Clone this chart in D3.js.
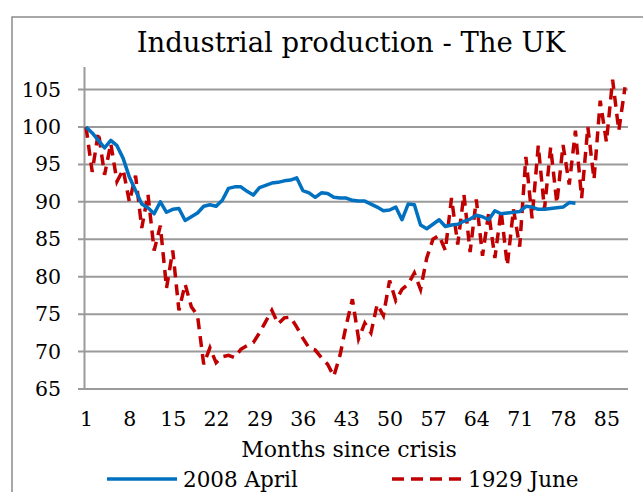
<!DOCTYPE html>
<html>
<head>
<meta charset="utf-8">
<script src="https://cdn.jsdelivr.net/npm/d3@7"></script>
<style>
  body { margin: 0; background: #fff; }
  text { font-family: "DejaVu Serif", serif; fill: #000; }
</style>
</head>
<body>
<div id="chart"></div>
<script>
// Data
const months = d3.range(1, 89);
const seriesNames = ["2008 April", "1929 June"];
const april2008 = [
  100, 99.2, 98.2, 97.2, 98.2, 97.5, 95.8, 93.3, 91.5, 89.7,
  89.2, 88.4, 90.0, 88.6, 89.0, 89.1, 87.5, 88.0, 88.5, 89.4,
  89.6, 89.4, 90.2, 91.8, 92.0, 92.0, 91.4, 90.9, 91.9, 92.2,
  92.5, 92.6, 92.8, 92.9, 93.2, 91.5, 91.2, 90.6, 91.2, 91.1,
  90.6, 90.5, 90.5, 90.2, 90.1, 90.1, 89.7, 89.3, 88.8, 88.9,
  89.3, 87.6, 89.7, 89.6, 86.9, 86.4, 87.0, 87.6, 86.7, 86.9,
  87.0, 87.4, 87.7, 88.2, 88.0, 87.6, 88.8, 88.4, 88.5, 88.6,
  88.7, 89.4, 89.3, 89.0, 89.0, 89.1, 89.2, 89.3, 89.9, 89.8
];
const june1929 = [
  100, 94.0, 99.3, 93.6, 97.8, 92.7, 94.3, 90.0, 93.5, 86.5,
  91.0, 83.5, 86.8, 78.5, 83.5, 75.5, 79.0, 76.0, 74.8, 68.3,
  70.5, 68.5, 69.3, 69.5, 69.2, 70.3, 70.8, 71.2, 72.5, 74.0,
  75.5, 73.7, 74.5, 74.6, 73.3, 71.8, 70.5, 70.2, 69.2, 68.3,
  66.7, 69.5, 73.5, 77.0, 71.7, 73.8, 72.5, 76.3, 74.8, 79.5,
  76.8, 78.3, 79.0, 80.5, 78.3, 82.5, 85.0, 85.5, 83.5, 90.5,
  84.3, 91.0, 83.3, 90.3, 82.8, 88.5, 82.5, 88.8, 81.5, 89.0,
  84.0, 96.0, 87.8, 97.5, 89.0, 97.3, 89.8, 97.6, 92.3, 99.5,
  90.5, 100.0, 93.0, 103.5, 98.0, 106.3, 99.5, 105.3
];
const yTicks = [65, 70, 75, 80, 85, 90, 95, 100, 105];
const xTicks = [1, 8, 15, 22, 29, 36, 43, 50, 57, 64, 71, 78, 85];

const dimensions = {
  width: 643,
  height: 492,
  plot: { left: 86, right: 625, top: 67, bottom: 389 },
};
const blue = "#0070C0";
const red = "#C00000";
const grid = "#9a9a9a";

const svg = d3
  .select("#chart")
  .append("svg")
  .attr("width", dimensions.width)
  .attr("height", dimensions.height);

// chart area border (runs off the right and bottom edge)
svg
  .append("rect")
  .attr("x", 12)
  .attr("y", 17)
  .attr("width", 700)
  .attr("height", 600)
  .attr("fill", "none")
  .attr("stroke", "#8c8c8c")
  .attr("stroke-width", 1.5);

// scales
const xScale = d3
  .scalePoint()
  .domain(months)
  .range([dimensions.plot.left, dimensions.plot.right]);
const yScale = d3
  .scaleLinear()
  .domain([65, 105])
  .range([dimensions.plot.bottom, 89.5]);

// gridlines
svg
  .append("g")
  .selectAll("line")
  .data(yTicks)
  .join("line")
  .attr("x1", 78)
  .attr("x2", 628)
  .attr("y1", (d) => yScale(d))
  .attr("y2", (d) => yScale(d))
  .attr("stroke", grid)
  .attr("stroke-width", 2);

// y axis line
svg
  .append("line")
  .attr("x1", 84.5)
  .attr("x2", 84.5)
  .attr("y1", dimensions.plot.top)
  .attr("y2", dimensions.plot.bottom)
  .attr("stroke", grid)
  .attr("stroke-width", 2);

// y axis labels
const yAxis = d3.axisLeft(yScale).tickValues(yTicks).tickSize(0).tickPadding(0);
const yAxisGroup = svg
  .append("g")
  .attr("transform", "translate(61,0)")
  .call(yAxis);
yAxisGroup.select(".domain").remove();
yAxisGroup.selectAll("text").style("font-size", "20.5px").style("font-family", "DejaVu Serif");

// x axis labels
const xAxis = d3.axisBottom(xScale).tickValues(xTicks).tickSize(0).tickPadding(0);
const xAxisGroup = svg
  .append("g")
  .attr("transform", "translate(0,411)")
  .call(xAxis);
xAxisGroup.select(".domain").remove();
xAxisGroup.selectAll("text").style("font-size", "20.5px").style("font-family", "DejaVu Serif");

// lines
const line = d3
  .line()
  .x((d, i) => xScale(months[i]))
  .y((d) => yScale(d));

svg
  .append("path")
  .datum(june1929)
  .attr("d", line)
  .attr("fill", "none")
  .attr("stroke", red)
  .attr("stroke-width", 3.5)
  .attr("stroke-dasharray", "11,7");

svg
  .append("path")
  .datum(april2008)
  .attr("d", line)
  .attr("fill", "none")
  .attr("stroke", blue)
  .attr("stroke-width", 3.5)
  .attr("stroke-linejoin", "round");

// titles
svg
  .append("text")
  .attr("x", 351)
  .attr("y", 52)
  .attr("text-anchor", "middle")
  .style("font-size", "27.5px")
  .text("Industrial production - The UK");

svg
  .append("text")
  .attr("x", 349)
  .attr("y", 457)
  .attr("text-anchor", "middle")
  .style("font-size", "22px")
  .text("Months since crisis");

// legend
const legend = [
  { name: seriesNames[0], color: blue, dash: null, x: 107 },
  { name: seriesNames[1], color: red, dash: "12,7", x: 392 },
];
const lg = svg
  .append("g")
  .selectAll("g")
  .data(legend)
  .join("g")
  .attr("transform", (d) => `translate(${d.x},479)`);
lg.append("line")
  .attr("x1", 0)
  .attr("x2", 70)
  .attr("stroke", (d) => d.color)
  .attr("stroke-width", 3.5)
  .attr("stroke-dasharray", (d) => d.dash);
lg.append("text")
  .attr("x", 76)
  .attr("y", 8)
  .style("font-size", "21.5px")
  .text((d) => d.name);
</script>
</body>
</html>
